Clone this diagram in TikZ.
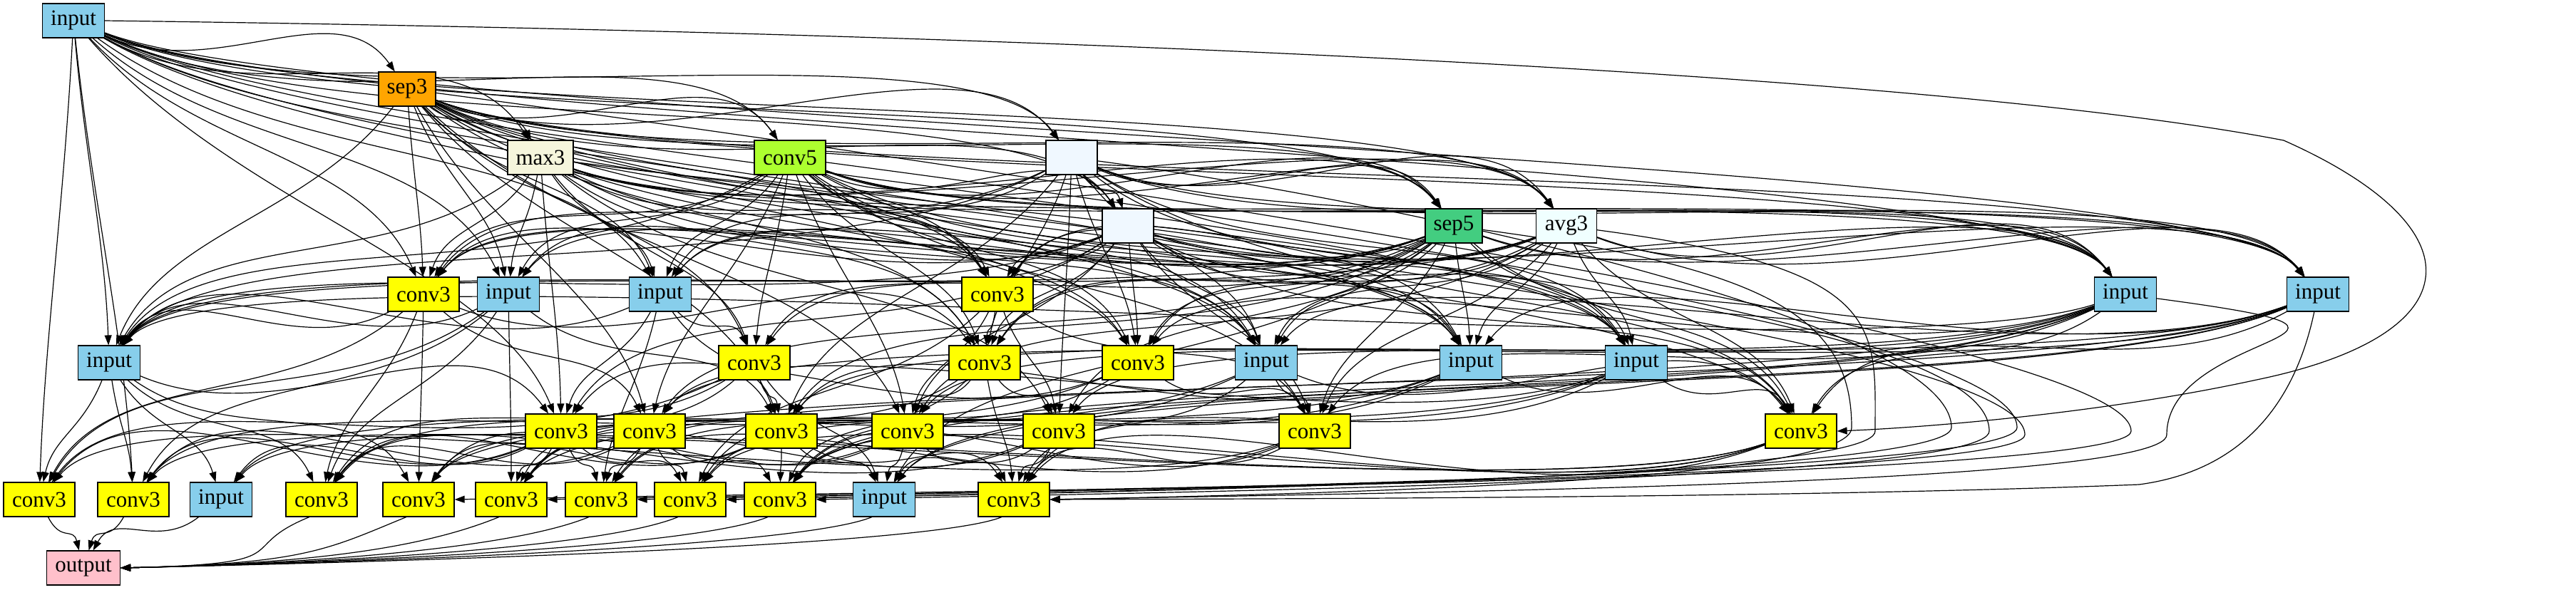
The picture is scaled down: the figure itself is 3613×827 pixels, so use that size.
\documentclass[tikz,border=0pt]{standalone}
\usepackage{fontspec}
\setmainfont{Liberation Serif}
\usetikzlibrary{arrows.meta,backgrounds,calc}
\definecolor{cinput}{HTML}{87CEEB}
\definecolor{cconv}{HTML}{FFFF00}
\definecolor{csepthree}{HTML}{FFA500}
\definecolor{cmax}{HTML}{F5F5DC}
\definecolor{cconvfive}{HTML}{ADFF2F}
\definecolor{cblank}{HTML}{F0F8FF}
\definecolor{csepfive}{HTML}{43CD80}
\definecolor{cavg}{HTML}{F0FFFF}
\definecolor{cout}{HTML}{FFC0CB}
\tikzset{
  box/.style={draw=black, line width=0.6pt, minimum height=24pt, inner sep=0pt,
    font=\fontsize{15.5}{15.5}\selectfont},
  inp/.style={box, fill=cinput, minimum width=43.5pt},
  cnv/.style={box, fill=cconv, minimum width=50pt},
  lnk/.style={draw=black, line width=0.6pt, -{Triangle[length=7pt,width=5pt]}}
}
\newcommand\ed[2]{%
  \pgfpointdiff{\pgfpointanchor{#1}{center}}{\pgfpointanchor{#2}{center}}%
  \pgfgetlastxy{\edX}{\edY}%
  \pgfmathsetmacro\edXn{\edX/100}%
  \pgfmathsetmacro\edYn{\edY/100}%
  \pgfmathsetmacro\edA{atan2(\edYn,\edXn)}%
  \pgfmathsetmacro\edL{veclen(\edXn,\edYn)*100}%
  \pgfmathsetmacro\edDa{min(0.35*\edL,190)}%
  \pgfmathsetmacro\edDb{min(0.3*\edL,110)}%
  \pgfmathtruncatemacro\edO{\edA+0.18*(-90-\edA)}%
  \pgfmathtruncatemacro\edI{\edA+180+0.55*(90-(\edA+180))}%
  \draw[lnk] (#1.\edO) .. controls +(\edO:\edDa pt) and +(\edI:\edDb pt) .. (#2.\edI);}
% edge routed round a loop on the right: source, target, loop x, loop y
\newcommand\lp[4]{%
  \draw[lnk] (#1) .. controls ($(#1)+(450,60)$) and (#3,#4-150) .. (#3,#4)
     .. controls (#3,#4+70) and ($(#2.east)+(500,-10)$) .. (#2.east);}
% edge into the output node from its right
\newcommand\outedge[1]{%
  \draw[lnk] (#1.235) .. controls +(-110,45) and +(260,-6) .. (out.east);}
\begin{document}
\begin{tikzpicture}[x=0.5pt,y=-0.5pt]
\useasboundingbox (0,0) rectangle (3613,827);
% row 0-3
\node[inp] (in0) at (103,29) {input};
\node[box, fill=csepthree, minimum width=40pt] (sep3) at (571,125) {sep3};
\node[box, fill=cmax, minimum width=46pt] (max3) at (758,221) {max3};
\node[box, fill=cconvfive, minimum width=50pt] (conv5) at (1108,221) {conv5};
\node[box, fill=cblank, minimum width=36pt] (b1) at (1503,221) {};
\node[box, fill=cblank, minimum width=36pt] (b2) at (1582,317) {};
\node[box, fill=csepfive, minimum width=40pt] (sep5) at (2039,317) {sep5};
\node[box, fill=cavg, minimum width=42.5pt] (avg3) at (2197,317) {avg3};
% row 4
\node[cnv] (c4a) at (594,413) {conv3};
\node[inp] (i4a) at (713,413) {input};
\node[inp] (i4b) at (926,413) {input};
\node[cnv] (c4b) at (1399,413) {conv3};
\node[inp] (i4c) at (2981,413) {input};
\node[inp] (i4d) at (3251,413) {input};
% row 5
\node[inp] (i5a) at (153,509) {input};
\node[cnv] (c5a) at (1058,509) {conv3};
\node[cnv] (c5b) at (1381,509) {conv3};
\node[cnv] (c5c) at (1596,509) {conv3};
\node[inp] (i5b) at (1776,509) {input};
\node[inp] (i5c) at (2063,509) {input};
\node[inp] (i5d) at (2295,509) {input};
% row 6
\node[cnv] (c6a) at (787,605) {conv3};
\node[cnv] (c6b) at (911,605) {conv3};
\node[cnv] (c6c) at (1096,605) {conv3};
\node[cnv] (c6d) at (1273,605) {conv3};
\node[cnv] (c6e) at (1485,605) {conv3};
\node[cnv] (c6f) at (1844,605) {conv3};
\node[cnv] (c6g) at (2526,605) {conv3};
% row 7
\node[cnv] (c7a) at (55,701) {conv3};
\node[cnv] (c7b) at (187,701) {conv3};
\node[inp] (i7a) at (310,701) {input};
\node[cnv] (c7c) at (451,701) {conv3};
\node[cnv] (c7d) at (587,701) {conv3};
\node[cnv] (c7e) at (717,701) {conv3};
\node[cnv] (c7f) at (843,701) {conv3};
\node[cnv] (c7g) at (968,701) {conv3};
\node[cnv] (c7h) at (1094,701) {conv3};
\node[inp] (i7b) at (1240,701) {input};
\node[cnv] (c7i) at (1422,701) {conv3};
% row 8
\node[box, fill=cout, minimum width=51.5pt] (out) at (117,797) {output};
\begin{pgfonlayer}{background}
\foreach \t in {sep3,max3,conv5,b1,b2,sep5,avg3,i4c,i4d,i5b,i5c,i5d,c4a,i4a,i4b,c4b,c5c,i5a,c7a,c7b,c6a} {\ed{in0}{\t}}
\foreach \t in {max3,conv5,b1,b2,sep5,avg3,c4a,i4a,i4b,i5a,c4b,i4c,i4d,i5b,i5c,i5d,c5a,c5b,c5c,c6b,c6c,c6g,c6d} {\ed{sep3}{\t}}
\foreach \t in {c4a,i4a,i4b,i5a,c5a,c6a,c4b,sep5,avg3,i4c,i4d,i5b,i5c,c5b,c6e} {\ed{max3}{\t}}
\foreach \t in {b2,sep5,avg3,c4a,i4a,i4b,i5a,c5a,c4b,i4c,i4d,i5b,i5c,i5d,c5b,c5c,c6b,c6d,c6f} {\ed{conv5}{\t}}
\foreach \t in {b2,sep5,avg3,c4a,i4b,i4c,i4d,c5b,c5c,i5b,i5c,i5d,c6c,c6e,c6g,i5a} {\ed{b1}{\t}}
\foreach \t in {c4a,i4a,c4b,i4c,i4d,c5a,c5b,c5c,i5b,i5c,i5d,c6a,c6d,c6f,i5a,c6g} {\ed{b2}{\t}}
\foreach \t in {c4a,i4a,i4b,c4b,i4c,i4d,i5a,c5a,c5b,c5c,i5b,i5c,i5d,c6b,c6c,c6e,c6f,c6g,i7b} {\ed{sep5}{\t}}
\foreach \t in {c4b,i4c,i4d,i5a,c5b,c5c,i5b,i5c,i5d,c6d,c6f,c6g,i4b,c4a} {\ed{avg3}{\t}}
\foreach \t in {i5a,c6b,c7c,c7a,c7d,c5b} {\ed{c4a}{\t}}
\foreach \t in {i5a,c7b,c7c,c6c,c7e,c7a} {\ed{i4a}{\t}}
\foreach \t in {i5a,c6a,c6c,c7f,c5a} {\ed{i4b}{\t}}
\foreach \t in {c6d,c6e,c7g,c6f,c5b} {\ed{c4b}{\t}}
\foreach \t in {c6g,c7h,c6c,c6d,i7b,c7e,c6f,c5c,i5a} {\ed{i4c}{\t}}
\foreach \t in {c6g,c7h,i7b,c6b,i5b,i5c,c7d,c6e} {\ed{i4d}{\t}}
\foreach \t in {c7a,c7b,i7a,c7c,c6a,c7d} {\ed{i5a}{\t}}
\foreach \t in {c7c,c7a,c7e,c6c,i7b} {\ed{c5a}{\t}}
\foreach \t in {c6d,c6e,c7h,c7i,c7f} {\ed{c5b}{\t}}
\foreach \t in {c6f,c6a,c7g,c7b} {\ed{c5c}{\t}}
\foreach \t in {c6f,c7i,c7e,c6g,c7c} {\ed{i5b}{\t}}
\foreach \t in {c6g,c7h,c7f,i7a,c6c} {\ed{i5c}{\t}}
\foreach \t in {c6g,c7i,c7g,c7d,c6b} {\ed{i5d}{\t}}
\foreach \t in {c7a,c7b,c7e,c7f,c7g,i7a} {\ed{c6a}{\t}}
\foreach \t in {c7b,c7f,c7h,c7g,c7c} {\ed{c6b}{\t}}
\foreach \t in {c7c,c7h,i7b,c7d,c7i} {\ed{c6c}{\t}}
\foreach \t in {c7d,i7b,c7i,c7e} {\ed{c6d}{\t}}
\foreach \t in {c7e,c7i,i7b,c7c} {\ed{c6e}{\t}}
\foreach \t in {c7f,c7i,c7h,c7a} {\ed{c6f}{\t}}
\foreach \t in {c7g,c7i,c7h,i7a,c7b} {\ed{c6g}{\t}}
% into output
\ed{c7a}{out}
\ed{c7b}{out}
\ed{i7a}{out}
\foreach \s in {c7c,c7d,c7e,c7f,c7g,c7h,i7b,c7i} {\outedge{\s}}
% long edges routed round the right-hand side
\lp{sep5}{c7i}{2597}{600}
\lp{avg3}{c7g}{2630}{605}
\lp{b1}{c7g}{2737}{600}
\lp{b2}{c7h}{2790}{605}
\lp{conv5}{c7f}{2829}{600}
\lp{max3}{c7d}{2840}{610}
\lp{sep3}{c7e}{2989}{605}
\lp{i4c}{c7i}{3039}{610}
\draw[lnk] (i4d) .. controls (3220,560) and (3150,660) .. (3000,680)
   .. controls (2500,700) and (1700,700) .. (c7i.east);
\draw[lnk] (in0.east) .. controls (1400,45) and (2700,100) .. (3203,197)
   .. controls (3480,320) and (3470,470) .. (3165,533)
   .. controls (2950,580) and (2700,600) .. (c6g.east);
\end{pgfonlayer}
\end{tikzpicture}
\end{document}
